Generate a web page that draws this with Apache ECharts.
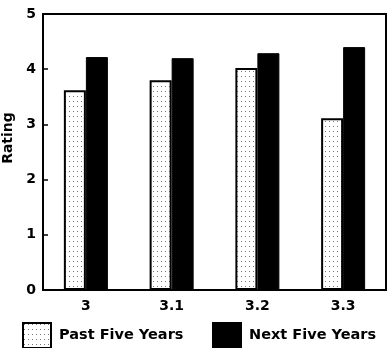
<!DOCTYPE html>
<html><head><meta charset="utf-8">
<script src="https://cdn.jsdelivr.net/npm/echarts@6/dist/echarts.min.js"></script>
<style>html,body{margin:0;padding:0;background:#fff}#c{width:390px;height:348px}</style>
</head><body><div id="c"></div>
<script>
const categories = ['3', '3.1', '3.2', '3.3'];
const pastFiveYears = [3.62, 3.80, 4.02, 3.11];
const nextFiveYears = [4.22, 4.20, 4.29, 4.40];
const seriesNames = ['Past Five Years', 'Next Five Years'];

const pc = document.createElement('canvas');
pc.width = 4; pc.height = 5;
const px = pc.getContext('2d');
px.fillStyle = '#fff'; px.fillRect(0, 0, 4, 5);
px.fillStyle = '#777'; px.fillRect(1, 1, 1, 1);

const FONT = 'DejaVu Sans';
const legendText = {fontFamily: FONT, fontWeight: 'bold', fontSize: 14.5, color: '#000', padding: [0, 0, 0, 3]};
const chart = echarts.init(document.getElementById('c'), null, {renderer: 'canvas'});
chart.setOption({
  animation: false,
  backgroundColor: '#fff',
  grid: {left: 43, right: 4, top: 14, bottom: 58, show: true, borderColor: '#000', borderWidth: 2,
         outerBoundsMode: 'none', containLabel: false},
  legend: [
    {data: [seriesNames[0]], icon: 'rect', left: 17, top: 317, itemWidth: 28, itemHeight: 25, itemGap: 0, textStyle: legendText},
    {data: [seriesNames[1]], icon: 'rect', left: 207, top: 317, itemWidth: 28, itemHeight: 25, itemGap: 0, textStyle: legendText}
  ],
  xAxis: {
    type: 'category', data: categories,
    axisLine: {lineStyle: {color: '#000', width: 2}},
    axisTick: {show: false},
    axisLabel: {color: '#000', fontFamily: FONT, fontWeight: 'bold', fontSize: 14, margin: 9}
  },
  yAxis: {
    type: 'value', min: 0, max: 5, interval: 1,
    name: 'Rating', nameLocation: 'middle', nameGap: 22, nameRotate: 90,
    nameTextStyle: {color: '#000', fontFamily: FONT, fontWeight: 'bold', fontSize: 14, padding: [0, 0, 0, 28]},
    axisLine: {show: true, lineStyle: {color: '#000', width: 2}},
    axisTick: {show: true, inside: true, length: 5, lineStyle: {color: '#000', width: 1.5}},
    splitLine: {show: false},
    axisLabel: {color: '#000', fontFamily: FONT, fontWeight: 'bold', fontSize: 14, margin: 7}
  },
  series: [
    {name: seriesNames[0], type: 'bar', data: pastFiveYears, barWidth: 22, barGap: '0%',
     itemStyle: {color: {image: pc, repeat: 'repeat'}, borderColor: '#000', borderWidth: 2}},
    {name: seriesNames[1], type: 'bar', data: nextFiveYears, barWidth: 22,
     itemStyle: {color: '#000', borderColor: '#000', borderWidth: 1}}
  ]
});
</script></body></html>
